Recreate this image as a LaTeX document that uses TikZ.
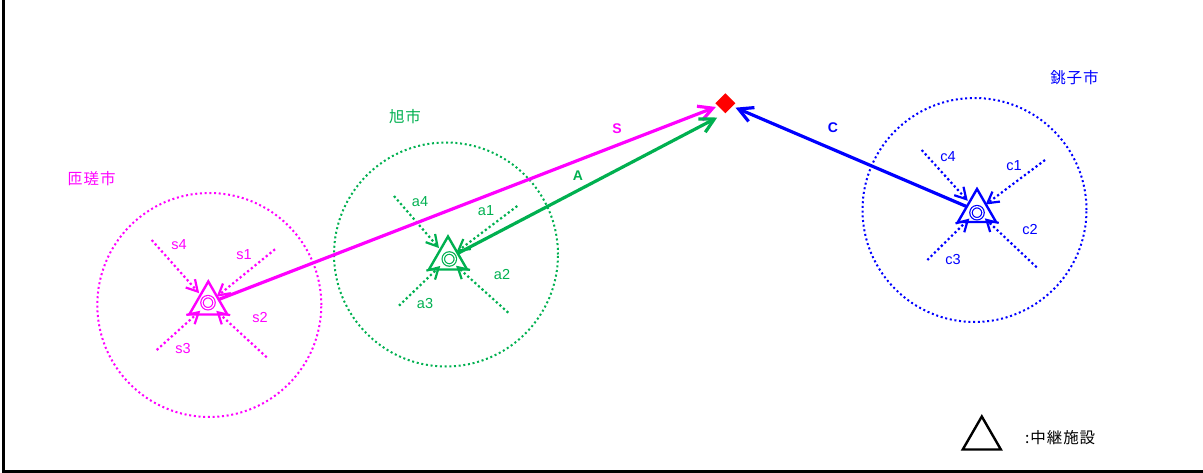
\documentclass[tikz,border=0pt]{standalone}
\usepackage{fontspec}
\setmainfont{Liberation Sans}
\newfontfamily\cjk[LetterSpace=6]{Noto Sans CJK JP}
\usetikzlibrary{arrows.meta, shapes.geometric}
\definecolor{sosa-pink}{HTML}{FF00FF}
\definecolor{asahi-green}{HTML}{00B050}
\definecolor{choshi-blue}{HTML}{0000FF}
\definecolor{site-red}{HTML}{FF0000}
\pgfdeclarearrow{
  name=Vbarb,
  defaults={length=9pt, width=15pt},
  setup code={
    \pgfarrowssettipend{0pt}
    \pgfarrowssetlineend{-1pt}
    \pgfarrowssavethe\pgfarrowlength
    \pgfarrowssavethe\pgfarrowwidth
  },
  drawing code={
    \pgfsetdash{}{0pt}
    \pgfpathmoveto{\pgfqpoint{-\pgfarrowlength}{.5\pgfarrowwidth}}
    \pgfpathlineto{\pgfpointorigin}
    \pgfpathlineto{\pgfqpoint{-\pgfarrowlength}{-.5\pgfarrowwidth}}
    \pgfusepathqstroke
  }
}
\tikzset{
  zone/.style={circle, draw, line width=2pt, dash pattern=on 2pt off 2.7pt,
        minimum size=224pt, inner sep=0pt, outer sep=0pt},
  relay/.style={regular polygon, regular polygon sides=3, draw, line width=2.4pt,
        minimum size=44pt, inner sep=0pt, outer sep=0pt},
  ring/.style={circle, draw, double, double distance=1.2pt, line width=1.2pt,
        minimum size=12pt, inner sep=0pt, outer sep=0pt},
  feeder/.style={line width=2.2pt, dash pattern=on 2.2pt off 2.6pt,
        -{Vbarb[length=11pt,width=12.5pt,line width=2pt]}, shorten >=13pt},
  trunk/.style={line width=3.2pt,
        -{Vbarb[length=14pt,width=15pt,line width=3pt]}, shorten <=11pt},
  lbl/.style={font=\fontsize{14.5}{14}\selectfont, inner sep=0pt},
  trunklbl/.style={font=\fontsize{14}{14}\selectfont\bfseries, inner sep=0pt},
  city/.style={font=\fontsize{15.5}{15}\selectfont\cjk, inner sep=0pt}
}
\begin{document}
\begin{tikzpicture}[x=1pt, y=-1pt]
      \useasboundingbox (0,0) rectangle (1203,473);
      \draw[line width=3pt] (3,0) -- (3,471.5) -- (1203,471.5);

      \node[zone, sosa-pink] (Szone) at (209.3,305) {};
      \node[zone, asahi-green] (Azone) at (446,254.5) {};
      \node[zone, choshi-blue] (Czone) at (974.5,210) {};

      \node[relay, sosa-pink] (Srelay) at (208.3,303.5) {};
      \node[relay, asahi-green] (Arelay) at (448,258.5) {};
      \node[relay, choshi-blue] (Crelay) at (977,211) {};
      \node[ring, sosa-pink] (Sring) at (208,302.7) {};
      \node[ring, asahi-green] (Aring) at (449.3,259) {};
      \node[ring, choshi-blue] (Cring) at (977,212.7) {};

      \node[diamond, fill=site-red, minimum size=20pt, inner sep=0pt, outer sep=0pt]
            (site) at (725.3,103.3) {};

      \coordinate (s1) at (275,249.3);
      \coordinate (s2) at (266.7,357.3);
      \coordinate (s3) at (156.7,350);
      \coordinate (s4) at (151.7,240);
      \draw[feeder, sosa-pink] (s1) -- (Srelay.center);
      \draw[feeder, sosa-pink] (s2) -- (Srelay.center);
      \draw[feeder, sosa-pink] (s3) -- (Srelay.center);
      \draw[feeder, sosa-pink, shorten >=16pt] (s4) -- (Srelay.center);

      \coordinate (a1) at (517.3,206);
      \coordinate (a2) at (508.3,312.7);
      \coordinate (a3) at (399,305.7);
      \coordinate (a4) at (394,196);
      \draw[feeder, asahi-green] (a1) -- (Arelay.center);
      \draw[feeder, asahi-green] (a2) -- (Arelay.center);
      \draw[feeder, asahi-green] (a3) -- (Arelay.center);
      \draw[feeder, asahi-green, shorten >=16pt] (a4) -- (Arelay.center);

      \coordinate (c1) at (1045,160);
      \coordinate (c2) at (1036.7,267.3);
      \coordinate (c3) at (927.3,260);
      \coordinate (c4) at (921.7,150);
      \draw[feeder, choshi-blue] (c1) -- (Crelay.center);
      \draw[feeder, choshi-blue] (c2) -- (Crelay.center);
      \draw[feeder, choshi-blue] (c3) -- (Crelay.center);
      \draw[feeder, choshi-blue, shorten >=16pt] (c4) -- (Crelay.center);

      \draw[trunk, sosa-pink, shorten >=13.5pt] (Srelay.center) -- (site.center);
      \draw[trunk, asahi-green, shorten >=12.5pt] (Arelay.center) -- (site.south);
      \draw[trunk, choshi-blue, shorten >=14.5pt] (Crelay.center) -- (site.center);

      \node[city, sosa-pink] (Sname) at (91.5,179) {匝瑳市};
      \node[city, asahi-green] (Aname) at (405,117) {旭市};
      \node[city, choshi-blue] (Cname) at (1074.5,78) {銚子市};

      \node[lbl, sosa-pink] (Sl1) at (244,255) {s1};
      \node[lbl, sosa-pink] (Sl2) at (260,318) {s2};
      \node[lbl, sosa-pink] (Sl3) at (183,349) {s3};
      \node[lbl, sosa-pink] (Sl4) at (179,245) {s4};
      \node[lbl, asahi-green] (Al1) at (486,211) {a1};
      \node[lbl, asahi-green] (Al2) at (502,275) {a2};
      \node[lbl, asahi-green] (Al3) at (425,304) {a3};
      \node[lbl, asahi-green] (Al4) at (420,202) {a4};
      \node[lbl, choshi-blue] (Cl1) at (1014,166) {c1};
      \node[lbl, choshi-blue] (Cl2) at (1030,230) {c2};
      \node[lbl, choshi-blue] (Cl3) at (953,260) {c3};
      \node[lbl, choshi-blue] (Cl4) at (948,157) {c4};

      \node[trunklbl, sosa-pink] (Stag) at (617,129) {S};
      \node[trunklbl, asahi-green] (Atag) at (578,176) {A};
      \node[trunklbl, choshi-blue] (Ctag) at (833,128) {C};

      \node[relay, black] (legendmark) at (981.8,438.5) {};
      \node[city, black, anchor=west] (legendtext) at (1025,438) {:中継施設};
\end{tikzpicture}
\end{document}
